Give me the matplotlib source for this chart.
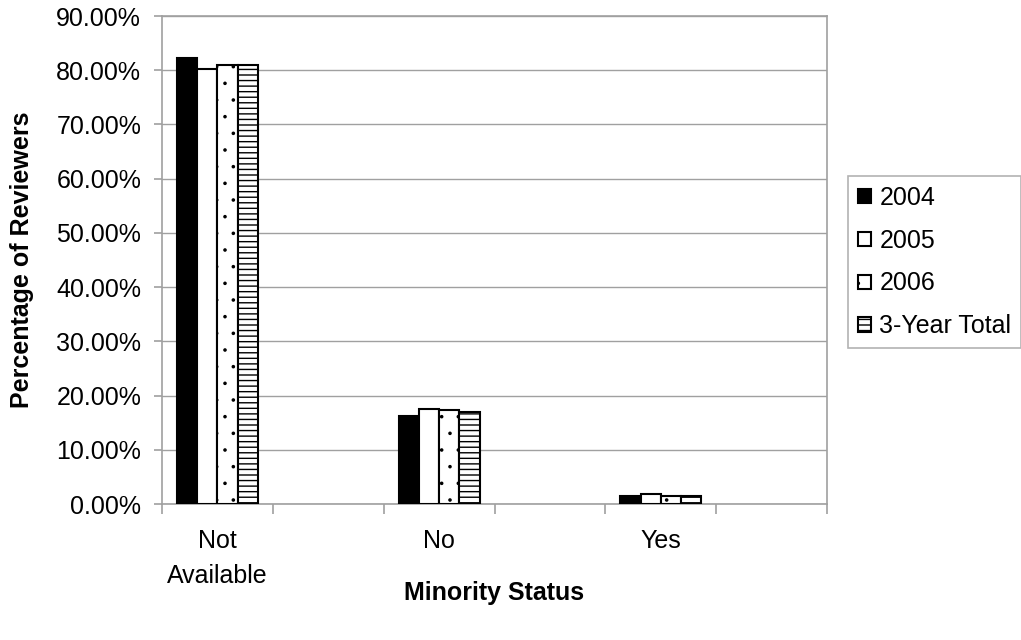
import numpy as np
import matplotlib
matplotlib.use("Agg")
import matplotlib.pyplot as plt
import matplotlib.hatch as mhatch
from matplotlib.ticker import FuncFormatter

plt.rcParams['font.family'] = ['Liberation Sans', 'DejaVu Sans']
plt.rcParams['hatch.linewidth'] = 1.0
mhatch.SmallFilledCircles.size = 0.065  # points plus fins, comme dans l'original

# données (les catégories vides sont des colonnes sans barre)
categories = ["Not\nAvailable", "", "No", "", "Yes", ""]
series = ["2004", "2005", "2006", "3-Year Total"]
v2004 = [0.822, np.nan, 0.163, np.nan, 0.015, np.nan]
v2005 = [0.802, np.nan, 0.176, np.nan, 0.018, np.nan]
v2006 = [0.810, np.nan, 0.173, np.nan, 0.014, np.nan]
vtotal = [0.810, np.nan, 0.170, np.nan, 0.015, np.nan]
y_ticks = np.arange(0, 0.91, 0.1)

valeurs = [v2004, v2005, v2006, vtotal]
couleurs = ["black", "white", "white", "white"]
hachures = [None, None, ".", "---"]

fig = plt.figure(figsize=(10.21, 6.4), dpi=100)
ax = fig.add_axes([162/1021, 1-504/640, (827-162)/1021, (504-16)/640])

x = np.arange(len(categories))
w = 0.73/4
for i in range(4):
    ax.bar(x + (i-1.5)*w, valeurs[i], width=w, color=couleurs[i], edgecolor="black",
           hatch=hachures[i], linewidth=1.5, label=series[i], zorder=3)

gris = "#a0a0a0"
ax.set_xlim(-0.5, len(categories)-0.5)
ax.set_ylim(0, 0.9)
ax.set_yticks(y_ticks)
ax.yaxis.set_major_formatter(FuncFormatter(lambda v, p: "{:.2f}%".format(v*100)))
ax.grid(axis="y", color=gris, linewidth=1, zorder=0)
for s in ax.spines.values():
    s.set_color(gris)
    s.set_linewidth(1.2)

ax.set_xticks(np.arange(-0.5, len(categories)), minor=False)
ax.set_xticklabels([])
ax.set_xticks(x, minor=True)
ax.set_xticklabels(categories, minor=True, fontsize=18, linespacing=1.6)
ax.tick_params(axis="x", which="minor", length=0, pad=18)
ax.tick_params(axis="x", which="major", length=7, color=gris, width=1.2)
ax.tick_params(axis="y", length=6, color=gris, width=1.2, labelsize=18, pad=9)

fig.text(494/1021, 1-593/640, "Minority Status", ha="center", va="center",
         fontsize=18, fontweight="bold")
fig.text(22/1021, 1-260/640, "Percentage of Reviewers", ha="center", va="center",
         rotation=90, fontsize=18, fontweight="bold")

leg = fig.legend(loc="upper left", bbox_to_anchor=(848/1021, 1-176/640), fontsize=18,
                 frameon=True, fancybox=False, edgecolor=gris, handlelength=0.5,
                 handleheight=0.5, handletextpad=0.35, labelspacing=0.75,
                 borderpad=0.4, borderaxespad=0)
leg.get_frame().set_linewidth(1.2)

plt.savefig("out.png", dpi=100)
